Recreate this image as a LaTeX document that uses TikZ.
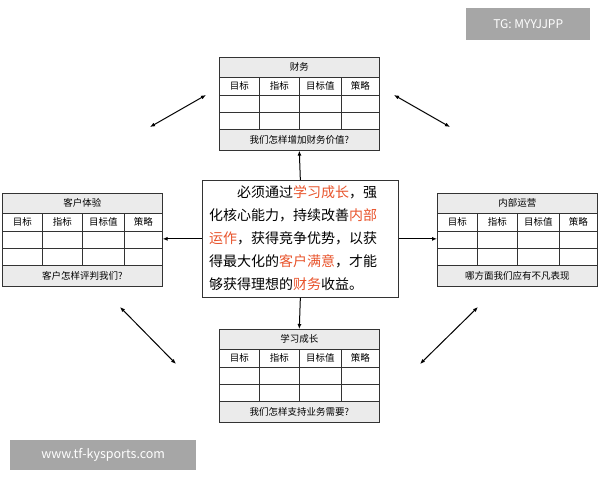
\documentclass[tikz,border=0pt]{standalone}
\usepackage{fontspec}
\setmainfont{Noto Sans CJK SC}
\usetikzlibrary{arrows.meta}
\definecolor{hl}{HTML}{E8542C}
\definecolor{gfill}{HTML}{EBEBEB}
\tikzset{
 cell/.style={draw=black!80,line width=0.6pt,inner sep=0,anchor=north west,font=\fontsize{9.5}{10}\selectfont},
 conn/.style={-{Latex[length=5pt,width=4pt]},line width=1pt},
 dconn/.style={{Latex[length=5pt,width=4pt]}-{Latex[length=5pt,width=4pt]},line width=1pt},
}
\newcommand{\kpitable}[5]{%
 \begin{scope}[shift={(#1,#2)}]
 \node[cell,fill=gfill,minimum width=160pt,minimum height=20pt] (#5t) at (0,0) {#3};
 \node[cell,minimum width=40pt,minimum height=18pt] (#5h1) at (0,20) {目标};
 \node[cell,minimum width=40pt,minimum height=18pt] (#5h2) at (40,20) {指标};
 \node[cell,minimum width=42pt,minimum height=18pt] (#5h3) at (80,20) {目标值};
 \node[cell,minimum width=38pt,minimum height=18pt] (#5h4) at (122,20) {策略};
 \foreach \yy/\r in {38/a,55/b}{
  \node[cell,minimum width=40pt,minimum height=17pt] (#5\r1) at (0,\yy) {};
  \node[cell,minimum width=40pt,minimum height=17pt] (#5\r2) at (40,\yy) {};
  \node[cell,minimum width=42pt,minimum height=17pt] (#5\r3) at (80,\yy) {};
  \node[cell,minimum width=38pt,minimum height=17pt] (#5\r4) at (122,\yy) {};
 }
 \node[cell,fill=gfill,minimum width=160pt,minimum height=21pt] (#5f) at (0,72) {#4};
 \end{scope}}
\begin{document}
\begin{tikzpicture}[x=1pt,y=-1pt]
\useasboundingbox (0,0) rectangle (600,480);
\kpitable{219}{57}{财务}{我们怎样增加财务价值?}{T}
\kpitable{2}{193}{客户体验}{客户怎样评判我们?}{L}
\kpitable{437}{193}{内部运营}{哪方面我们应有不凡表现}{R}
\kpitable{219}{329}{学习成长}{我们怎样支持业务需要?}{B}
\node[draw=black!80,line width=0.7pt,minimum width=196pt,minimum height=117pt,anchor=north west,inner sep=0] (C) at (202,180) {};
\node[anchor=north west,align=left,font=\fontsize{14}{23}\selectfont,inner sep=0] (Ctext) at (209,185) {%
\hspace*{2em}必须通过\textcolor{hl}{学习成长}，强\\
化核心能力，持续改善\textcolor{hl}{内部}\\
\textcolor{hl}{运作}，获得竞争优势，以获\\
得最大化的\textcolor{hl}{客户满意}，才能\\
够获得理想的\textcolor{hl}{财务}收益。};
\draw[conn] (C.north) -- (Tf.south);
\draw[conn] (C.south) -- (Bt.north);
\draw[conn] (C.west) -- (C.west -| Lt.east);
\draw[conn] (C.east) -- (C.east -| Rt.west);
\coordinate (d1a) at (150,127); \coordinate (d1b) at (206,95);
\coordinate (d2a) at (394,95); \coordinate (d2b) at (450,127);
\coordinate (d3a) at (120,307); \coordinate (d3b) at (176,364);
\coordinate (d4a) at (420,364); \coordinate (d4b) at (478,307);
\draw[dconn] (d1a) -- (d1b);
\draw[dconn] (d2a) -- (d2b);
\draw[dconn] (d3a) -- (d3b);
\draw[dconn] (d4a) -- (d4b);
\node[fill=black!35,text=white,anchor=north west,minimum width=124pt,minimum height=32pt,font=\fontsize{12}{14}\selectfont] (wm1) at (466,8) {TG: MYYJJPP};
\node[fill=black!35,text=white,anchor=north west,minimum width=186pt,minimum height=30pt,font=\fontsize{12.5}{14}\selectfont] (wm2) at (10,440) {www.tf-kysports.com};
\end{tikzpicture}
\end{document}
